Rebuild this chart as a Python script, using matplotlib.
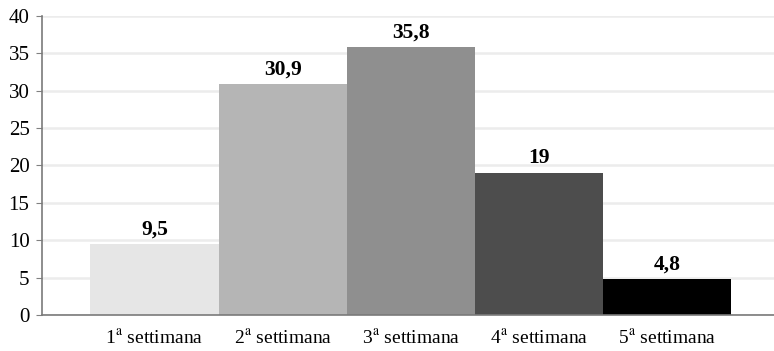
import numpy as np
import matplotlib.pyplot as plt

plt.rcParams['font.family'] = ['Liberation Serif', 'DejaVu Serif']
plt.rcParams['mathtext.fontset'] = 'stix'

# Weekly percentages
weeks = ["1$^{\\mathrm{a}}$ settimana", "2$^{\\mathrm{a}}$ settimana", "3$^{\\mathrm{a}}$ settimana",
         "4$^{\\mathrm{a}}$ settimana", "5$^{\\mathrm{a}}$ settimana"]
values = [9.5, 30.9, 35.8, 19, 4.8]
value_labels = ["9,5", "30,9", "35,8", "19", "4,8"]
colors = ["#e6e6e6", "#b5b5b5", "#8f8f8f", "#4d4d4d", "#000000"]

fig = plt.figure(figsize=(7.74, 3.51), dpi=100)
ax = fig.add_axes([0.0543, 0.1026, 0.9457, 0.8518])

x = np.arange(len(values))
bars = ax.bar(x, values, width=1.0, color=colors, zorder=2)

for b, lab in zip(bars, value_labels):
    ax.annotate(lab, (b.get_x() + b.get_width() / 2, b.get_height()),
                xytext=(0, 7), textcoords="offset points",
                ha="center", va="baseline", fontsize=15.5, fontweight="bold")

ax.set_xlim(-0.8775, 4.832)
ax.set_ylim(0, 40)
ax.set_yticks(np.arange(0, 41, 5))
ax.yaxis.grid(True, color="#ececec", linewidth=1.8, zorder=0)
ax.set_axisbelow(True)

ax.set_xticks(x)
ax.set_xticklabels(weeks, fontsize=14)
ax.tick_params(axis="x", length=0, pad=10)
ax.tick_params(axis="y", labelsize=15, length=4, color="#808080", pad=5)

for side in ("top", "right"):
    ax.spines[side].set_visible(False)
for side in ("left", "bottom"):
    ax.spines[side].set_color("#7a7a7a")
    ax.spines[side].set_linewidth(1.2)

fig.savefig("out.png", dpi=100)
